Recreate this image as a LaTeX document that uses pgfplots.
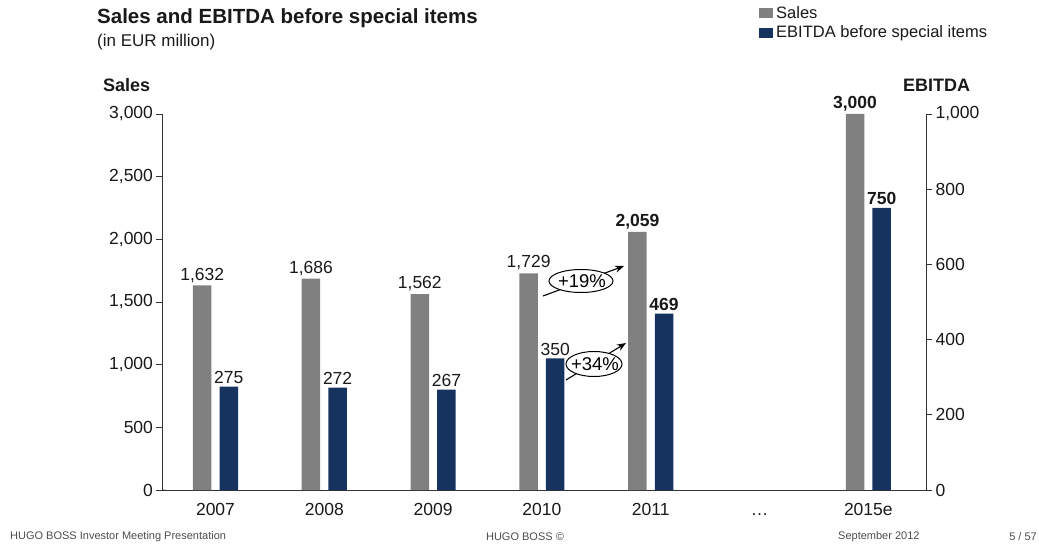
\documentclass[border=0pt]{standalone}
\usepackage{fontspec}
\setmainfont{Liberation Sans}
\usepackage{pgfplots}
\usepackage{pgfplotstable}
\pgfplotsset{compat=1.18}
\usetikzlibrary{arrows.meta}

\definecolor{salesgrey}{RGB}{128,128,128}
\definecolor{ebitdablue}{RGB}{22,50,94}
\definecolor{txt}{RGB}{25,25,25}

% x: 0..4 = 2007..2011, 5 = gap, 6 = 2015e
\pgfplotstableread{
x sales slabel         ebitda elabel
0 1632  1,632          275    275
1 1686  1,686          272    272
2 1562  1,562          267    267
3 1729  1,729          350    350
4 2059  \textbf{2,059} 469    \textbf{469}
6 3000  \textbf{3,000} 750    \textbf{750}
}\data

\begin{document}
\begin{tikzpicture}[x=1pt,y=1pt]
\useasboundingbox (0,0) rectangle (1039,-545);

\pgfplotsset{
  base/.style={
    scale only axis, width=763.5pt, height=376pt,
    at={(162.5pt,-490pt)}, anchor=south west,
    xmin=-0.487, xmax=6.53, ymin=0,
    ybar, bar width=18.5pt,
    axis line style={black!80, line width=0.8pt},
    tick style={black!80, line width=0.8pt},
    tick align=outside, major tick length=6pt,
    ticklabel style={font=\fontsize{17.5}{17.5}\selectfont, text=txt},
    /pgf/number format/assume math mode=true,
    /pgf/number format/1000 sep={,},
    point meta=explicit symbolic,
    nodes near coords,
    every node near coord/.append style={font=\fontsize{17.5}{17.5}\selectfont, text=txt, inner sep=3pt},
  }
}

\begin{axis}[base,
    ymax=3000,
    axis y line*=left, axis x line*=bottom,
    ytick={0,500,...,3000},
    xtick={0,1,2,3,4,5,6},
    xticklabels={2007,2008,2009,2010,2011,\ldots,2015e},
    xtick style={draw=none},
    xticklabel style={yshift=-3pt, text height=12.5pt, text depth=0pt},
  ]
  \addplot[bar shift=-13.3pt, fill=salesgrey, draw=none]
    table[x=x, y=sales, meta=slabel] {\data};
  % small extensions of both y axes below the baseline
  \draw[black!80, line width=0.8pt] (rel axis cs:0,0) -- ++(0,-5pt);
  \draw[black!80, line width=0.8pt] (rel axis cs:1,0) -- ++(0,-5pt);
\end{axis}

\begin{axis}[base,
    ymax=1000,
    axis y line*=right, axis x line=none,
    ytick={0,200,400,600,800,1000},
  ]
  \addplot[bar shift=13.3pt, fill=ebitdablue, draw=none]
    table[x=x, y=ebitda, meta=elabel] {\data};
\end{axis}

% growth annotations
\draw[-{Stealth[length=9pt,width=7pt]}, line width=1.1pt] (543,-296) -- (624,-266);
\draw[fill=white, line width=1pt] (581,-281) ellipse [x radius=32, y radius=11.5];
\node[font=\fontsize{18.5}{18.5}\selectfont] at (582,-281) {+19\%};

\draw[-{Stealth[length=9pt,width=7pt]}, line width=1.1pt] (566,-380) -- (626,-343);
\draw[fill=white, line width=1pt] (594,-364) ellipse [x radius=28, y radius=12.5];
\node[font=\fontsize{18.5}{18.5}\selectfont] at (595,-364) {+34\%};

% titles and axis names
\node[anchor=west, inner sep=0, font=\bfseries\fontsize{20.5}{20.5}\selectfont, text=txt] at (97,-18) {Sales and EBITDA before special items};
\node[anchor=west, inner sep=0, font=\fontsize{17}{17}\selectfont, text=txt] at (97,-42) {(in EUR million)};
\node[anchor=west, inner sep=0, font=\bfseries\fontsize{18}{18}\selectfont, text=txt] at (103,-85) {Sales};
\node[anchor=west, inner sep=0, font=\bfseries\fontsize{18}{18}\selectfont, text=txt] at (903,-85) {EBITDA};

% legend
\fill[salesgrey] (759,-8) rectangle (773,-18);
\node[anchor=west, inner sep=0, font=\fontsize{16.5}{16.5}\selectfont, text=txt] at (776,-13) {Sales};
\fill[ebitdablue] (759,-28) rectangle (773,-38);
\node[anchor=west, inner sep=0, font=\fontsize{16.5}{16.5}\selectfont, text=txt] at (776,-33) {EBITDA before special items};

% footer
\node[anchor=west, inner sep=0, font=\fontsize{11}{11}\selectfont, text=black!70] at (10,-537) {HUGO BOSS Investor Meeting Presentation};
\node[inner sep=0, font=\fontsize{11}{11}\selectfont, text=black!70] at (525,-537) {HUGO BOSS ©};
\node[anchor=west, inner sep=0, font=\fontsize{11}{11}\selectfont, text=black!70] at (838,-537) {September 2012};
\node[anchor=east, inner sep=0, font=\fontsize{11}{11}\selectfont, text=black!70] at (1037,-537) {5 / 57};
\end{tikzpicture}
\end{document}
